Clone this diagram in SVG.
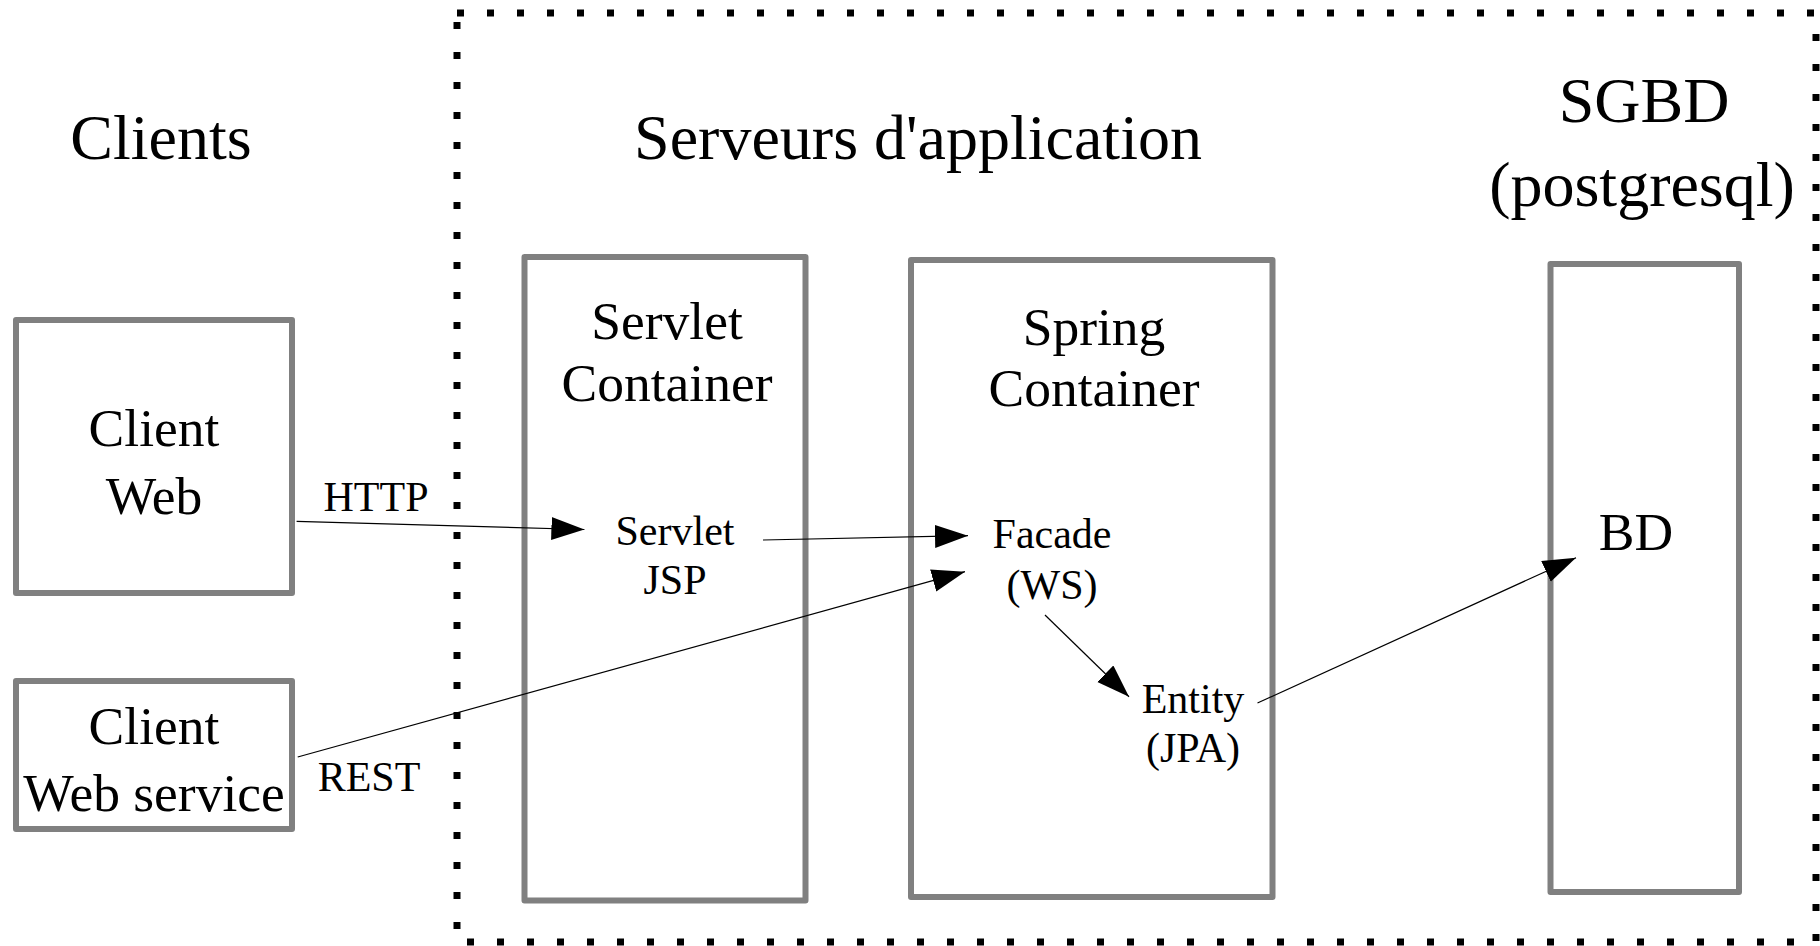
<svg xmlns="http://www.w3.org/2000/svg" width="1820" height="946" viewBox="0 0 1820 946">
<style>
text{font-family:"Liberation Serif","Times New Roman",serif;fill:#000;text-anchor:middle}
.h{font-size:64px}
.m{font-size:53.5px}
.s{font-size:42px}
.box{fill:#fff;stroke:#808080;stroke-width:6;stroke-linejoin:round}
.con{fill:none;stroke:#000;stroke-width:1.2}
</style>
<defs>
<marker id="ah" markerUnits="userSpaceOnUse" markerWidth="34" markerHeight="24" refX="33" refY="11.5" orient="auto">
<path d="M0,0 L33,11.5 L0,23 Z" fill="#000"/>
</marker>
</defs>
<rect width="1820" height="946" fill="#fff"/>
<g id="app-server-zone">
<rect x="457" y="13" width="1359" height="929" fill="none" stroke="#000" stroke-width="7" stroke-dasharray="7 23"/>
</g>
<g id="titles">
<text class="h" x="161" y="159">Clients</text>
<text class="h" x="918" y="159">Serveurs d'application</text>
<text class="h" x="1644" y="122">SGBD</text>
<text class="h" x="1642" y="206">(postgresql)</text>
</g>
<g id="client-web">
<rect class="box" x="16" y="320" width="276" height="273"/>
<text class="m" x="154" y="446">Client</text>
<text class="m" x="154" y="514">Web</text>
</g>
<g id="client-ws">
<rect class="box" x="16" y="681" width="276" height="148"/>
<text class="m" x="154" y="744">Client</text>
<text class="m" x="154" y="811">Web service</text>
</g>
<g id="servlet-container">
<rect class="box" x="524.5" y="257" width="281" height="643.5"/>
<text class="m" x="667" y="339">Servlet</text>
<text class="m" x="667" y="401">Container</text>
</g>
<g id="spring-container">
<rect class="box" x="911" y="260" width="361.5" height="637"/>
<text class="m" x="1094" y="345">Spring</text>
<text class="m" x="1094" y="406">Container</text>
</g>
<g id="bd">
<rect class="box" x="1550.5" y="264" width="188.5" height="628"/>
<text class="m" x="1636" y="550">BD</text>
</g>
<g id="servlet-jsp">
<text class="s" x="675" y="545">Servlet</text>
<text class="s" x="675" y="594">JSP</text>
</g>
<g id="facade">
<text class="s" x="1052" y="548">Facade</text>
<text class="s" x="1052" y="599">(WS)</text>
</g>
<g id="entity">
<text class="s" x="1193" y="713">Entity</text>
<text class="s" x="1193" y="762">(JPA)</text>
</g>
<g id="connectors">
<line class="con" x1="296.6" y1="521.4" x2="584.4" y2="529.5" marker-end="url(#ah)"/>
<line class="con" x1="763" y1="540" x2="968" y2="535.7" marker-end="url(#ah)"/>
<line class="con" x1="297.7" y1="757" x2="965" y2="571.7" marker-end="url(#ah)"/>
<line class="con" x1="1045" y1="615" x2="1129" y2="696.7" marker-end="url(#ah)"/>
<line class="con" x1="1257.5" y1="703" x2="1576" y2="557.7" marker-end="url(#ah)"/>
<text class="s" x="376" y="511">HTTP</text>
<text class="s" x="369" y="791">REST</text>
</g>
</svg>
